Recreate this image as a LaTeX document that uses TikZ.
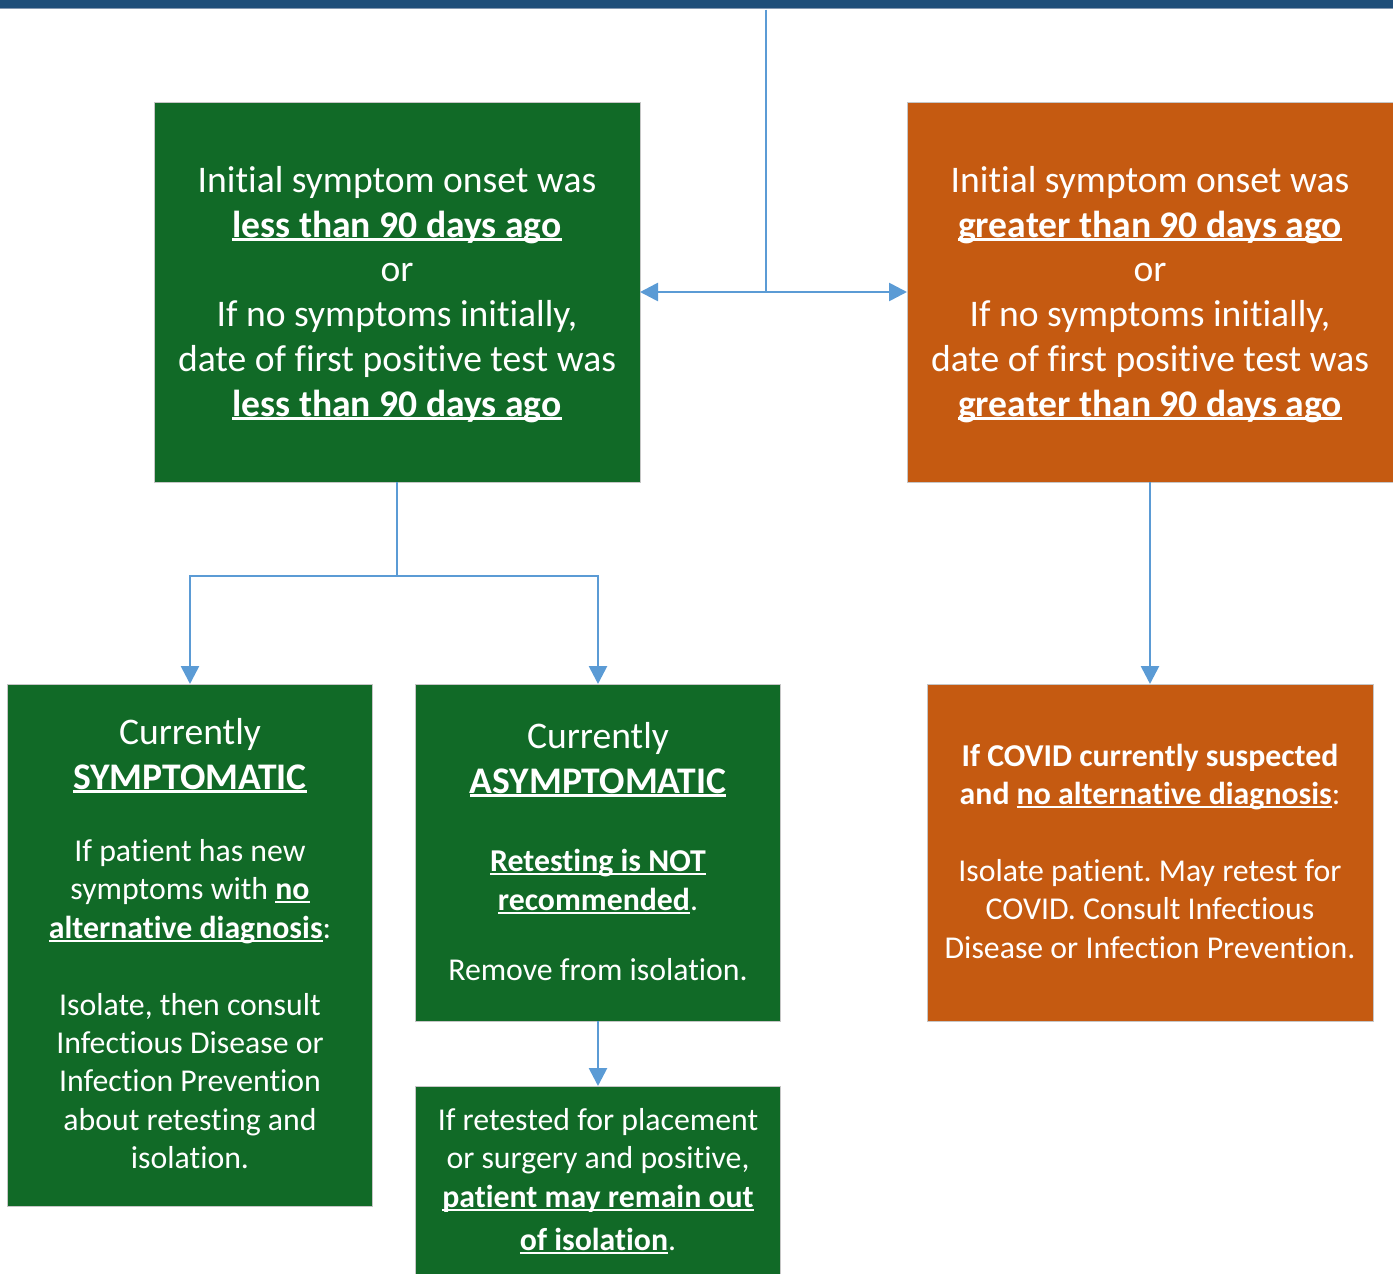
\documentclass[tikz,border=0pt]{standalone}
\usepackage{fontspec}
\setmainfont{Carlito}[Ligatures={NoCommon,NoContextual,NoRare},RawFeature={-liga;-clig;-calt}]
\usetikzlibrary{arrows.meta}
\definecolor{gfill}{RGB}{17,106,39}
\definecolor{ofill}{RGB}{197,90,17}
\definecolor{conncol}{RGB}{91,155,213}
\definecolor{topbar}{RGB}{31,78,121}
\definecolor{topline}{RGB}{132,151,176}
\newcommand\uln[1]{\leavevmode\setbox0\hbox{#1}\rlap{\rule[-0.1em]{\wd0}{0.065em}}\box0}
\newcommand\bigf{\frenchspacing\fontsize{37.6}{45}\selectfont}
\newcommand\smf{\frenchspacing\fontsize{31.8}{38}\selectfont}
\tikzset{
  boxbase/.style={draw=gray!45, line width=1pt, inner sep=0pt, outer sep=0pt},
  gbox/.style={boxbase, fill=gfill},
  obox/.style={boxbase, fill=ofill},
  txt/.style={text=white, inner sep=0pt, anchor=base},
  conn/.style={draw=conncol, line width=2.7pt, -{Triangle[width=18pt,length=18pt]}},
  plain/.style={draw=conncol, line width=2.7pt}
}
\begin{document}
\begin{tikzpicture}[x=1pt,y=-1pt]
\useasboundingbox (0,0) rectangle (1393,1274);
% top bar
\fill[topbar] (0,0) rectangle (1393,8);
\draw[topline, line width=1.5pt] (0,8.5) -- (1393,8.5);
% boxes
\node[gbox, minimum width=486pt, minimum height=380pt] (A) at (397,292) {};
\node[obox, minimum width=486pt, minimum height=380pt] (B) at (1150,292) {};
\node[gbox, minimum width=365pt, minimum height=522pt] (C) at (190,945) {};
\node[gbox, minimum width=365pt, minimum height=337pt] (D) at (598,852.5) {};
\node[gbox, minimum width=365pt, minimum height=192pt] (E) at (598,1182) {};
\node[obox, minimum width=446pt, minimum height=337pt] (F) at (1150,852.5) {};
% connectors
\coordinate (top) at (766,9.5);
\coordinate (j1) at (766,292);
\coordinate (j2) at (397,576);
\draw[plain] (top) -- (j1);
\draw[conn] (j1) -- (A.east);
\draw[conn] (j1) -- (B.west);
\draw[plain] (A.south) -- (j2);
\draw[conn] (j2) -| (C.north);
\draw[conn] (j2) -| (D.north);
\draw[conn] (D.south) -- (E.north);
\draw[conn] (B.south) -- (F.north);
% text box A
\node[txt, font=\bigf] (a1) at (397,192) {Initial symptom onset was};
\node[txt, font=\bigf\bfseries] (a2) at (397,237) {\uln{less than 90 days ago}};
\node[txt, font=\bigf] (a3) at (397,281) {or};
\node[txt, font=\bigf] (a4) at (397,326) {If no symptoms initially,};
\node[txt, font=\bigf] (a5) at (397,371) {date of first positive test was};
\node[txt, font=\bigf\bfseries] (a6) at (397,416) {\uln{less than 90 days ago}};
% text box B
\node[txt, font=\bigf] (b1) at (1150,192) {Initial symptom onset was};
\node[txt, font=\bigf\bfseries] (b2) at (1150,237) {\uln{greater than 90 days ago}};
\node[txt, font=\bigf] (b3) at (1150,281) {or};
\node[txt, font=\bigf] (b4) at (1150,326) {If no symptoms initially,};
\node[txt, font=\bigf] (b5) at (1150,371) {date of first positive test was};
\node[txt, font=\bigf\bfseries] (b6) at (1150,416) {\uln{greater than 90 days ago}};
% text box C
\node[txt, font=\bigf] (c1) at (190,744) {Currently};
\node[txt, font=\bigf\bfseries] (c2) at (190,789) {\uln{SYMPTOMATIC}};
\node[txt, font=\smf] (c3) at (190,861) {If patient has new};
\node[txt, font=\smf] (c4) at (190,899.5) {symptoms with \textbf{\uln{no}}};
\node[txt, font=\smf] (c5) at (190,938.5) {\textbf{\uln{alternative diagnosis}}:};
\node[txt, font=\smf] (c6) at (190,1015.5) {Isolate, then consult};
\node[txt, font=\smf] (c7) at (190,1053.5) {Infectious Disease or};
\node[txt, font=\smf] (c8) at (190,1091.5) {Infection Prevention};
\node[txt, font=\smf] (c9) at (190,1130.5) {about retesting and};
\node[txt, font=\smf] (c10) at (190,1168.5) {isolation.};
% text box D
\node[txt, font=\bigf] (d1) at (598,748) {Currently};
\node[txt, font=\bigf\bfseries] (d2) at (598,793) {\uln{ASYMPTOMATIC}};
\node[txt, font=\smf] (d3) at (598,871.5) {\textbf{\uln{Retesting is NOT}}};
\node[txt, font=\smf] (d4) at (598,910.5) {\textbf{\uln{recommended}}.};
\node[txt, font=\smf] (d5) at (598,980.5) {Remove from isolation.};
% text box E
\node[txt, font=\smf] (e1) at (598,1130.5) {If retested for placement};
\node[txt, font=\smf] (e2) at (598,1168.5) {or surgery and positive,};
\node[txt, font=\smf] (e3) at (598,1207.5) {\textbf{\uln{patient may remain out}}};
\node[txt, font=\smf] (e4) at (598,1250.5) {\textbf{\uln{of isolation}}.};
% text box F
\node[txt, font=\smf\bfseries] (f1) at (1150,766.5) {If COVID currently suspected};
\node[txt, font=\smf] (f2) at (1150,804.5) {\textbf{and \uln{no alternative diagnosis}}:};
\node[txt, font=\smf] (f3) at (1150,881.5) {Isolate patient. May retest for};
\node[txt, font=\smf] (f4) at (1150,919.5) {COVID. Consult Infectious};
\node[txt, font=\smf] (f5) at (1150,958.5) {Disease or Infection Prevention.};
\end{tikzpicture}
\end{document}
